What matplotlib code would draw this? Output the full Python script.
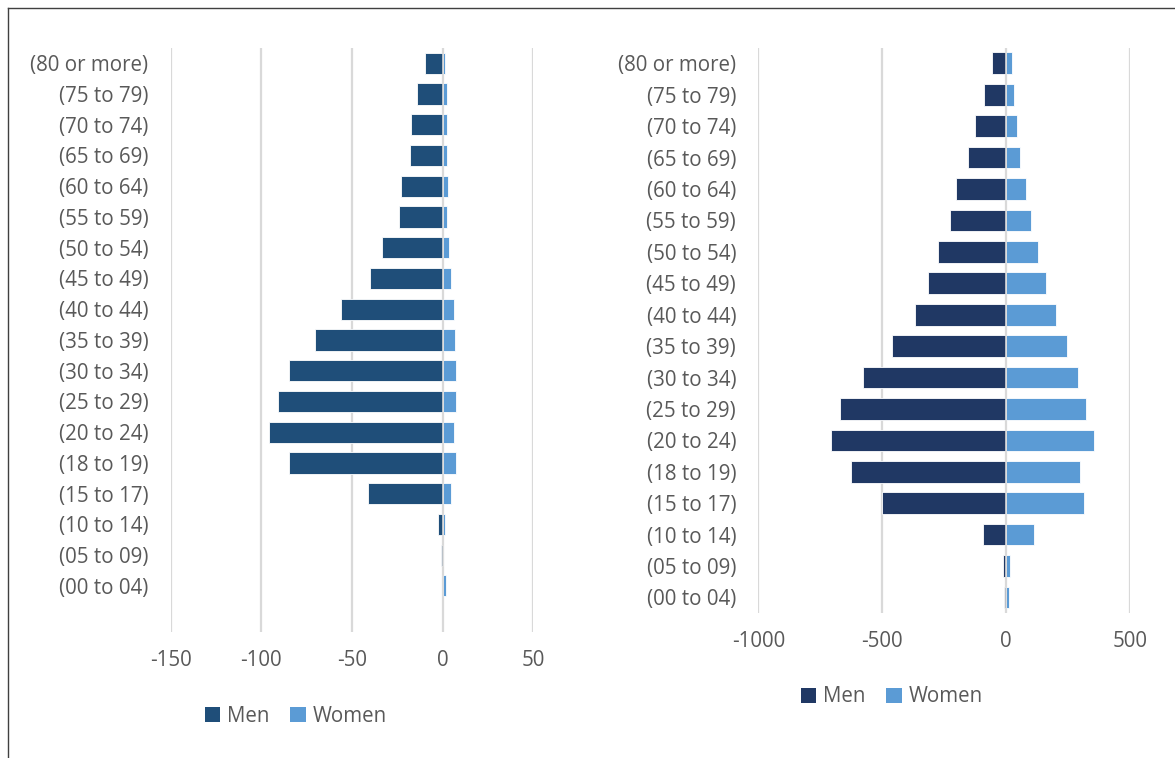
import matplotlib
matplotlib.use("Agg")
import numpy as np
import matplotlib.pyplot as plt
from matplotlib.patches import Patch
from matplotlib.lines import Line2D

# ---------- DATA ----------

AGE_GROUPS = [
    "(00 to 04)", "(05 to 09)", "(10 to 14)", "(15 to 17)", "(18 to 19)",
    "(20 to 24)", "(25 to 29)", "(30 to 34)", "(35 to 39)", "(40 to 44)",
    "(45 to 49)", "(50 to 54)", "(55 to 59)", "(60 to 64)", "(65 to 69)",
    "(70 to 74)", "(75 to 79)", "(80 or more)",
]

# left pyramid (men negative)
left_men = [-0.5, -0.7, -2.8, -41, -85, -96, -91, -85, -70.5, -56,
            -40, -33.5, -24.3, -23, -18, -17.6, -14.2, -9.6]
left_women = [1.6, 0.3, 1.5, 4.8, 7.2, 6.4, 7.5, 7.5, 6.8, 6.4,
              4.4, 3.7, 2.2, 2.9, 2.2, 2.2, 2.6, 1.5]

# right pyramid (men negative)
right_men = [-9, -15, -94, -501, -627, -705, -672, -579, -459, -369,
             -314, -276, -229, -203, -156, -125, -91, -58]
right_women = [12, 15, 110, 315, 299, 354, 322, 289, 245, 200,
               159, 128, 100, 79, 55, 43, 31, 23]

left_ticks = [-150, -100, -50, 0, 50]
right_ticks = [-1000, -500, 0, 500]

# ---------- STYLE ----------

plt.rcParams["font.family"] = ["Open Sans", "DejaVu Sans"]
TEXT = "#595959"
GRID = "#D9D9D9"
WOMEN = "#5B9BD5"
FS = 14.8

W, H = 1175, 758
fig = plt.figure(figsize=(W / 100, H / 100), dpi=100)


def px_axes(x0, x1, y0, y1):
    """Axes from pixel box (top-left origin)."""
    return fig.add_axes([x0 / W, (H - y1) / H, (x1 - x0) / W, (y1 - y0) / H])


def draw_pyramid(ax, men, women, ticks, men_color, ylim):
    y = np.arange(len(AGE_GROUPS))
    ax.barh(y, men, height=0.69, color=men_color, edgecolor="white",
            linewidth=0.6, zorder=2)
    ax.barh(y, women, height=0.69, color=WOMEN, edgecolor="white",
            linewidth=0.6, zorder=2)
    ax.axvline(0, color=GRID, lw=1.2, zorder=3)

    ax.set_xlim(ticks[0], ticks[-1])
    ax.set_ylim(*ylim)
    ax.set_xticks(ticks)
    ax.set_xticklabels([str(t) for t in ticks])
    ax.set_yticks(y)
    ax.set_yticklabels(AGE_GROUPS)
    ax.tick_params(axis="both", length=0, labelsize=FS, labelcolor=TEXT)
    ax.tick_params(axis="y", pad=16)
    ax.tick_params(axis="x", pad=13)
    ax.grid(axis="x", color=GRID, lw=1.6)
    ax.set_axisbelow(True)
    for s in ax.spines.values():
        s.set_visible(False)


ax1 = px_axes(170.7, 533.3, 47.9, 632)
draw_pyramid(ax1, left_men, left_women, left_ticks, "#1F4E79", (-1.5, 17.5))

ax2 = px_axes(758.3, 1130.3, 47.6, 613.2)
draw_pyramid(ax2, right_men, right_women, right_ticks, "#203864", (-0.5, 17.5))

# legends under each pyramid
for color, cx, cy in [("#1F4E79", 296, 716), ("#203864", 892, 697)]:
    handles = [Patch(facecolor=color, edgecolor="none", label="Men"),
               Patch(facecolor=WOMEN, edgecolor="none", label="Women")]
    fig.legend(handles=handles, loc="center", ncol=2,
               bbox_to_anchor=(cx / W, 1 - cy / H), frameon=False,
               fontsize=FS, labelcolor=TEXT, handlelength=0.75,
               handleheight=0.75, handletextpad=0.35, columnspacing=1.0)

# outer frame (left and top edges)
fig.add_artist(Line2D([8 / W, 8 / W], [0, 1 - 8 / H], color="#404040", lw=1))
fig.add_artist(Line2D([8 / W, 1], [1 - 8 / H, 1 - 8 / H], color="#404040", lw=1))

fig.savefig("out.png", dpi=100)
